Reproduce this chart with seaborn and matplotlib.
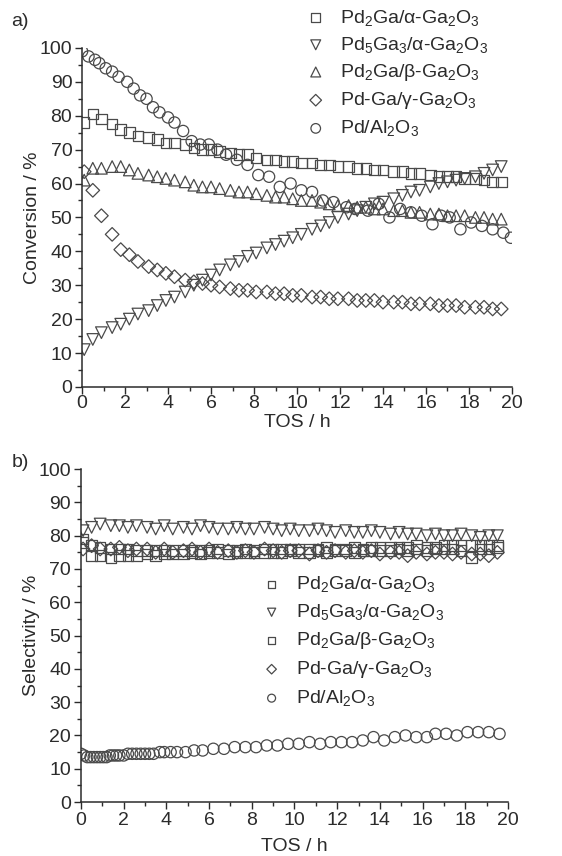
import numpy as np
import pandas as pd
import seaborn as sns
import matplotlib.pyplot as plt
from matplotlib.ticker import MultipleLocator

# time on stream grid (h) shared by most series
tos = [0.1, 0.5, 0.9, 1.4, 1.8, 2.2, 2.6, 3.1, 3.5, 3.9,
       4.3, 4.8, 5.2, 5.6, 6.0, 6.4, 6.9, 7.3, 7.7, 8.1,
       8.6, 9.0, 9.4, 9.8, 10.2, 10.7, 11.1, 11.5, 11.9, 12.4,
       12.8, 13.2, 13.6, 14.0, 14.5, 14.9, 15.3, 15.7, 16.2, 16.6,
       17.0, 17.4, 17.8, 18.3, 18.7, 19.1, 19.5]

# a) conversion / %
conv_pd2ga_alpha = [78, 80.5, 79, 77.5, 76, 75, 74, 73.5, 73, 72,
                    72, 71.5, 70.5, 70, 70, 69.5, 69, 68.5, 68.5, 67.5,
                    67, 67, 66.5, 66.5, 66, 66, 65.5, 65.5, 65, 65,
                    64.5, 64.5, 64, 64, 63.5, 63.5, 63, 63, 62.5, 62,
                    62, 62, 61.5, 61.5, 61, 60.5, 60.5]
conv_pd5ga3_alpha = [11, 14, 16, 17.5, 18.5, 20, 21.5, 22.5, 24, 25.5,
                     26.5, 28, 30, 31.5, 33, 34.5, 36, 37, 38.5, 39.5,
                     41, 42, 43, 44, 45, 46.5, 47.5, 48.5, 50, 51,
                     52, 53, 54, 54.5, 55.5, 56.5, 57.5, 58, 59, 60,
                     60.5, 61, 61.5, 62, 63, 64, 65]
conv_pd2ga_beta = [61, 64.5, 64.5, 65, 65, 64, 63, 62.5, 62, 61.5,
                   61, 60.5, 59.5, 59, 59, 58.5, 58, 57.5, 57.5, 57,
                   56.5, 56, 56, 55.5, 55, 55, 54.5, 54, 53.5, 53.5,
                   53, 53, 52.5, 52.5, 52, 52, 51.5, 51.5, 51, 51,
                   50.5, 50.5, 50.5, 50, 50, 49.5, 49.5]
conv_pdga_gamma = [63.5, 58, 50.5, 45, 40.5, 39, 37, 35.5, 34.5, 33.5,
                   32.5, 31.5, 31, 30.5, 30, 29.5, 29, 28.5, 28.5, 28,
                   28, 27.5, 27.5, 27, 27, 26.5, 26.5, 26, 26, 26,
                   25.5, 25.5, 25.5, 25, 25, 25, 24.5, 24.5, 24.5, 24,
                   24, 24, 23.5, 23.5, 23.5, 23, 23]
tos_al2o3_a = [0.0, 0.3, 0.6, 0.8, 1.1, 1.4, 1.7, 2.1, 2.4, 2.7,
               3.0, 3.3, 3.6, 4.0, 4.3, 4.7, 5.1, 5.5, 5.9, 6.3,
               6.7, 7.2, 7.7, 8.2, 8.7, 9.2, 9.7, 10.2, 10.7, 11.2,
               11.7, 12.3, 12.7, 13.3, 13.8, 14.3, 14.8, 15.3, 15.8, 16.3,
               16.7, 17.1, 17.6, 18.1, 18.6, 19.1, 19.6, 19.95]
conv_pd_al2o3 = [99, 97.5, 96.5, 95.5, 94, 93, 91.5, 90, 88, 86,
                 85, 82.5, 81, 79.5, 78, 75.5, 72.5, 71.5, 71.5, 70,
                 68.5, 67, 65.5, 62.5, 62, 59, 60, 58, 57.5, 55,
                 54.5, 53, 52.5, 52, 54, 50, 52.5, 51.5, 50.5, 48,
                 50.5, 50, 46.5, 48.5, 47.5, 46.5, 45.5, 44]

# b) selectivity / %
sel_pd2ga_alpha = [79, 74, 74, 73.5, 74, 74, 74, 74.5, 74, 74.5,
                   74.5, 74.5, 75, 74.5, 75, 75, 74.5, 75, 75, 75,
                   75, 75, 75, 75.5, 75, 75, 75.5, 75, 75.5, 75.5,
                   75, 75.5, 75.5, 75.5, 75.5, 76, 75.5, 76, 75.5, 76,
                   76, 76, 75.5, 73.5, 76, 76, 76.5]
sel_pd5ga3_alpha = [81.5, 82.5, 83.5, 83, 83, 82.5, 83, 82.5, 82, 83,
                    82, 82.5, 82, 83, 82.5, 82, 82, 82.5, 82, 82,
                    82.5, 82, 81.5, 82, 81.5, 81.5, 82, 81.5, 81, 81.5,
                    81, 81, 81.5, 81, 80.5, 81, 80.5, 80.5, 80, 80.5,
                    80, 80, 80.5, 80, 79.5, 80, 80]
sel_pd2ga_beta = [78, 77, 76.5, 76, 76, 76, 75.5, 75.5, 75.5, 75.5,
                  75.5, 75.5, 75.5, 75.5, 75.5, 76, 75.5, 75.5, 76, 75.5,
                  76, 76, 76, 76, 76, 76, 76, 76.5, 76, 76,
                  76.5, 76, 76.5, 76.5, 76.5, 76.5, 76.5, 77, 76.5, 76.5,
                  77, 77, 77, 77, 77, 77, 77]
sel_pdga_gamma = [76, 77, 76, 76, 76.5, 75.5, 76, 76, 75, 76,
                  75, 75.5, 76, 75, 76, 75, 75.5, 75, 75.5, 75,
                  76, 75.5, 75, 75.5, 75.5, 74.5, 75.5, 75, 75.5, 75,
                  75.5, 75, 75.5, 74.5, 75, 75, 74, 75, 74.5, 75,
                  75, 74.5, 75, 74.5, 74.5, 74, 75]
tos_al2o3_b = [0.0, 0.15, 0.3, 0.45, 0.6, 0.75, 0.9, 1.05, 1.2, 1.35,
               1.5, 1.65, 1.8, 2.0, 2.2, 2.4, 2.6, 2.8, 3.0, 3.2,
               3.4, 3.7, 3.9, 4.2, 4.5, 4.9, 5.3, 5.7, 6.2, 6.7,
               7.2, 7.7, 8.2, 8.7, 9.2, 9.7, 10.2, 10.7, 11.2, 11.7,
               12.2, 12.7, 13.2, 13.7, 14.2, 14.7, 15.2, 15.7, 16.2, 16.6,
               17.1, 17.6, 18.1, 18.6, 19.1, 19.6]
sel_pd_al2o3 = [14.5, 14, 13.5, 13.5, 13.5, 13.5, 13.5, 13.5, 13.5, 14,
                14, 14, 14, 14, 14.5, 14.5, 14.5, 14.5, 14.5, 14.5,
                14.5, 15, 15, 15, 15, 15, 15.5, 15.5, 16, 16,
                16.5, 16.5, 16.5, 17, 17, 17.5, 17.5, 18, 17.5, 18,
                18, 18, 18.5, 19.5, 18.5, 19.5, 20, 19.5, 19.5, 20.5,
                20.5, 20, 21, 21, 21, 20.5]

labels = ["Pd$_\\mathregular{2}$Ga/α-Ga$_\\mathregular{2}$O$_\\mathregular{3}$",
          "Pd$_\\mathregular{5}$Ga$_\\mathregular{3}$/α-Ga$_\\mathregular{2}$O$_\\mathregular{3}$",
          "Pd$_\\mathregular{2}$Ga/β-Ga$_\\mathregular{2}$O$_\\mathregular{3}$",
          "Pd-Ga/γ-Ga$_\\mathregular{2}$O$_\\mathregular{3}$",
          "Pd/Al$_\\mathregular{2}$O$_\\mathregular{3}$"]

sns.set_style("ticks")
plt.rcParams["font.family"] = ["Liberation Sans", "DejaVu Sans"]
plt.rcParams["mathtext.fontset"] = "custom"
plt.rcParams["mathtext.rm"] = "Liberation Sans"
plt.rcParams["mathtext.it"] = "Liberation Sans:italic"
plt.rcParams["mathtext.bf"] = "Liberation Sans:bold"

ink = "#2b2b2b"
mk = "#4a4a4a"
fs = 14

fig = plt.figure(figsize=(5.62, 8.56), dpi=100)
ax_a = fig.add_axes([0.146, 0.548, 0.765, 0.396])
ax_b = fig.add_axes([0.144, 0.063, 0.760, 0.389])


def draw(ax, x, y, marker, label, s=62):
    sns.scatterplot(x=x, y=y, ax=ax, marker=marker, s=s, facecolor="none",
                    edgecolor=mk, linewidth=0.9, label=label, legend=False)


draw(ax_a, tos, conv_pd2ga_alpha, "s", labels[0], s=58)
draw(ax_a, tos, conv_pd5ga3_alpha, "v", labels[1], s=70)
draw(ax_a, tos, conv_pd2ga_beta, "^", labels[2], s=70)
draw(ax_a, tos, conv_pdga_gamma, "D", labels[3], s=48)
draw(ax_a, tos_al2o3_a, conv_pd_al2o3, "o", labels[4], s=66)

draw(ax_b, tos, sel_pd2ga_alpha, "s", labels[0], s=58)
draw(ax_b, tos, sel_pd5ga3_alpha, "v", labels[1], s=70)
draw(ax_b, tos, sel_pd2ga_beta, "s", labels[2], s=58)
draw(ax_b, tos, sel_pdga_gamma, "D", labels[3], s=48)
draw(ax_b, tos_al2o3_b, sel_pd_al2o3, "o", labels[4], s=66)

for ax, ylab, xpad, tpad in [(ax_a, "Conversion / %", 1, 1), (ax_b, "Selectivity / %", 6.5, 2)]:
    ax.set_xlim(0, 20)
    ax.set_ylim(0, 100)
    ax.xaxis.set_major_locator(MultipleLocator(2))
    ax.xaxis.set_minor_locator(MultipleLocator(1))
    ax.yaxis.set_major_locator(MultipleLocator(10))
    ax.yaxis.set_minor_locator(MultipleLocator(5))
    ax.tick_params(which="major", direction="out", length=5, width=1.0,
                   color=ink, labelcolor=ink, labelsize=fs, pad=2)
    ax.tick_params(axis="x", which="major", pad=tpad)
    ax.tick_params(which="minor", direction="out", length=3, width=1.0, color=ink)
    for side in ["top", "right"]:
        ax.spines[side].set_visible(False)
    for side in ["left", "bottom"]:
        ax.spines[side].set_color(ink)
        ax.spines[side].set_linewidth(1.1)
    ax.set_xlabel("TOS / h", fontsize=fs, color=ink, labelpad=xpad)
    ax.set_ylabel(ylab, fontsize=fs, color=ink, labelpad=-1)

leg_kw = dict(bbox_transform=fig.transFigure, frameon=False, fontsize=fs,
              borderpad=0, borderaxespad=0, handlelength=1.0,
              handletextpad=0.75)
leg_a = ax_a.legend(loc="upper left", bbox_to_anchor=(0.5445, 0.991),
                    markerscale=0.85, labelspacing=0.37, **leg_kw)
leg_b = ax_b.legend(loc="upper left", bbox_to_anchor=(0.466, 0.329),
                    markerscale=0.7, labelspacing=0.41, **leg_kw)
for leg in (leg_a, leg_b):
    for t in leg.get_texts():
        t.set_color(ink)

fig.text(0.02, 0.970, "a)", fontsize=fs, color=ink)
fig.text(0.02, 0.454, "b)", fontsize=fs, color=ink)

fig.savefig("out.png", dpi=100)
